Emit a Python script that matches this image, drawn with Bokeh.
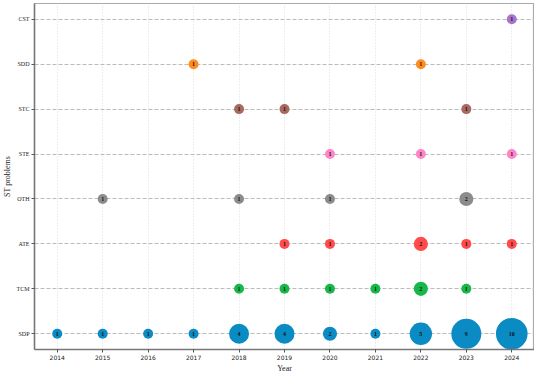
from bokeh.plotting import figure
from bokeh.models import ColumnDataSource, Range1d, FixedTicker
from bokeh.core.properties import value
from bokeh.embed import file_html
from bokeh.resources import INLINE
import numpy as np

categories = ["SDP", "TCM", "ATE", "OTH", "STE", "STC", "SDD", "CST"]
cat_colors = ["#0a8bc4", "#16b84a", "#ff4b4b", "#8c8c8c", "#ff85c9", "#a86a5f", "#ff8c1f", "#a873cb"]
year_ticks = list(range(2014, 2025))

sdp_years = [2014, 2015, 2016, 2017, 2018, 2019, 2020, 2021, 2022, 2023, 2024]
sdp_counts = [1, 1, 1, 1, 4, 4, 2, 1, 5, 9, 10]
tcm_years = [2018, 2019, 2020, 2021, 2022, 2023]
tcm_counts = [1, 1, 1, 1, 2, 1]
ate_years = [2019, 2020, 2022, 2023, 2024]
ate_counts = [1, 1, 2, 1, 1]
oth_years = [2015, 2018, 2020, 2023]
oth_counts = [1, 1, 1, 2]
ste_years = [2020, 2022, 2024]
ste_counts = [1, 1, 1]
stc_years = [2018, 2019, 2023]
stc_counts = [1, 1, 1]
sdd_years = [2017, 2022]
sdd_counts = [1, 1]
cst_years = [2024]
cst_counts = [1]

series = {
    "SDP": (sdp_years, sdp_counts),
    "TCM": (tcm_years, tcm_counts),
    "ATE": (ate_years, ate_counts),
    "OTH": (oth_years, oth_counts),
    "STE": (ste_years, ste_counts),
    "STC": (stc_years, stc_counts),
    "SDD": (sdd_years, sdd_counts),
    "CST": (cst_years, cst_counts),
}

SERIF = "Liberation Serif"

p = figure(width=534, height=375, output_backend="svg", toolbar_location=None,
           x_range=Range1d(2013.5, 2024.5),
           y_range=Range1d(-0.35, len(categories) - 1 + 0.35),
           min_border_left=0, min_border_right=0, min_border_top=3, min_border_bottom=0)

p.background_fill_color = "white"
p.border_fill_color = "white"
p.outline_line_color = "#aaaaaa"
p.outline_line_width = 1.2

xs, ys, cs, sz, lab = [], [], [], [], []
for idx, (cat, col) in enumerate(zip(categories, cat_colors)):
    yrs, cnt = series[cat]
    for yv, c in zip(yrs, cnt):
        xs.append(yv)
        ys.append(idx)
        cs.append(col)
        sz.append(10.0 * np.sqrt(c))
        lab.append(str(c))

src = ColumnDataSource(dict(x=xs, y=ys, color=cs, size=sz, label=lab))
p.scatter("x", "y", source=src, size="size", fill_color="color", line_color=None, fill_alpha=1.0)
p.text("x", "y", text="label", source=src, text_font=value(SERIF), text_font_style="bold",
       text_font_size="6px", text_align="center", text_baseline="middle", text_color="#111111")

p.xaxis.ticker = FixedTicker(ticks=year_ticks)
p.yaxis.ticker = FixedTicker(ticks=list(range(len(categories))))
p.yaxis.major_label_overrides = {i: c for i, c in enumerate(categories)}
p.xaxis.axis_label = "Year"
p.yaxis.axis_label = "ST problems"

for ax in (p.xaxis[0], p.yaxis[0]):
    ax.axis_line_color = "#777777"
    ax.axis_line_width = 1.5
    ax.major_tick_line_color = "#555555"
    ax.major_tick_out = 3
    ax.major_tick_in = 0
    ax.minor_tick_line_color = None
    ax.axis_label_text_font = SERIF
    ax.axis_label_text_font_style = "normal"
    ax.axis_label_text_font_size = "8px"
    ax.axis_label_text_color = "#222222"
    ax.major_label_text_color = "#222222"
    ax.axis_label_standoff = 1
    ax.major_label_standoff = 2

p.xaxis.major_label_standoff = 2
p.xaxis.major_label_text_font = "DejaVu Sans"
p.xaxis.major_label_text_font_size = "6px"
p.yaxis.major_label_text_font = SERIF
p.yaxis.major_label_text_font_size = "6px"

p.xgrid.grid_line_color = "#dddddd"
p.xgrid.grid_line_dash = "1 2"
p.xgrid.grid_line_width = 1
p.ygrid.grid_line_color = "#bbbbbb"
p.ygrid.grid_line_dash = "4 2"
p.ygrid.grid_line_width = 1

open("out.html", "w").write(file_html(p, INLINE))
